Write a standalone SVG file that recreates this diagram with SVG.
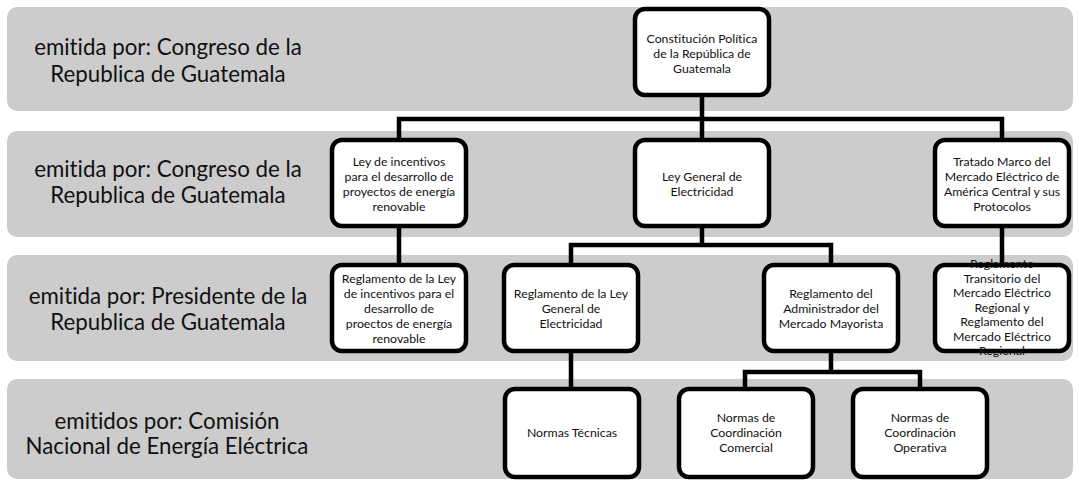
<svg xmlns="http://www.w3.org/2000/svg" width="1079" height="481" viewBox="0 0 1079 481">
<style>
.band{fill:#cccccc;}
.lbl{font-family:Lato,"Open Sans","Liberation Sans",sans-serif;font-size:22.3px;fill:#111;text-anchor:middle;font-variant-ligatures:none;}
.box{fill:#ffffff;stroke:#000;stroke-width:4.5;}
.t{font-family:Lato,"Open Sans","Liberation Sans",sans-serif;font-size:12.3px;fill:#111;text-anchor:middle;font-variant-ligatures:none;}
.c{fill:none;stroke:#000;stroke-width:4.5;stroke-linejoin:miter;}
</style>
<rect width="1079" height="481" fill="#ffffff"/>
<g id="bands">
<rect class="band" x="7" y="7" width="1066" height="104" rx="10"/>
<rect class="band" x="7" y="131" width="1066" height="106" rx="10"/>
<rect class="band" x="7" y="255" width="1066" height="106" rx="10"/>
<rect class="band" x="7" y="379" width="1066" height="100" rx="10"/>
<text class="lbl" x="168" y="55">emitida por: Congreso de la</text>
<text class="lbl" x="168" y="82">Republica de Guatemala</text>
<text class="lbl" x="168" y="177">emitida por: Congreso de la</text>
<text class="lbl" x="168" y="203">Republica de Guatemala</text>
<text class="lbl" x="168" y="304">emitida por: Presidente de la</text>
<text class="lbl" x="168" y="330">Republica de Guatemala</text>
<text class="lbl" x="167" y="429">emitidos por: Comisión</text>
<text class="lbl" x="167" y="454">Nacional de Energía Eléctrica</text>
</g>
<g id="connectors">
<path class="c" d="M702 95 V119 M399 140 V119 H1002 V140 M702 119 V140"/>
<path class="c" d="M399 226 V265"/>
<path class="c" d="M1002 226 V265"/>
<path class="c" d="M702 226 V245 M571 265 V245 H831 V265"/>
<path class="c" d="M571 351 V389"/>
<path class="c" d="M831 351 V372 M745 389 V372 H920 V389"/>
</g>
<g id="n-constitucion">
<rect class="box" x="635" y="9" width="134" height="86" rx="10"/>
<text class="t" x="702" y="43">Constitución Política</text>
<text class="t" x="702" y="58">de la República de</text>
<text class="t" x="702" y="73">Guatemala</text>
</g>
<g id="n-ley-incentivos">
<rect class="box" x="332" y="140" width="134" height="86" rx="10"/>
<text class="t" x="399" y="166">Ley de incentivos</text>
<text class="t" x="399" y="181">para el desarrollo de</text>
<text class="t" x="399" y="196">proyectos de energía</text>
<text class="t" x="399" y="211">renovable</text>
</g>
<g id="n-ley-general">
<rect class="box" x="635" y="140" width="134" height="86" rx="10"/>
<text class="t" x="702" y="181">Ley General de</text>
<text class="t" x="702" y="196">Electricidad</text>
</g>
<g id="n-tratado">
<rect class="box" x="935" y="140" width="134" height="86" rx="10"/>
<text class="t" x="1002" y="166">Tratado Marco del</text>
<text class="t" x="1002" y="181">Mercado Eléctrico de</text>
<text class="t" x="1002" y="196">América Central y sus</text>
<text class="t" x="1002" y="211">Protocolos</text>
</g>
<g id="n-reg-incentivos">
<rect class="box" x="332" y="265" width="134" height="86" rx="10"/>
<text class="t" x="399" y="283">Reglamento de la Ley</text>
<text class="t" x="399" y="298">de incentivos para el</text>
<text class="t" x="399" y="313">desarrollo de</text>
<text class="t" x="399" y="328">proectos de energía</text>
<text class="t" x="399" y="343">renovable</text>
</g>
<g id="n-reg-ley-general">
<rect class="box" x="504" y="265" width="134" height="86" rx="10"/>
<text class="t" x="571" y="298">Reglamento de la Ley</text>
<text class="t" x="571" y="313">General de</text>
<text class="t" x="571" y="328">Electricidad</text>
</g>
<g id="n-reg-administrador">
<rect class="box" x="764" y="265" width="134" height="86" rx="10"/>
<text class="t" x="831" y="298">Reglamento del</text>
<text class="t" x="831" y="313">Administrador del</text>
<text class="t" x="831" y="328">Mercado Mayorista</text>
</g>
<g id="n-reg-transitorio">
<rect class="box" x="935" y="265" width="134" height="86" rx="10"/>
<text class="t" x="1002" y="268">Reglamento</text>
<text class="t" x="1002" y="282.5">Transitorio del</text>
<text class="t" x="1002" y="297">Mercado Eléctrico</text>
<text class="t" x="1002" y="311.5">Regional y</text>
<text class="t" x="1002" y="326">Reglamento del</text>
<text class="t" x="1002" y="340.5">Mercado Eléctrico</text>
<text class="t" x="1002" y="355">Regional</text>
</g>
<g id="n-normas-tecnicas">
<rect class="box" x="505" y="389" width="134" height="88" rx="10"/>
<text class="t" x="572" y="437">Normas Técnicas</text>
</g>
<g id="n-normas-comercial">
<rect class="box" x="679" y="389" width="134" height="88" rx="10"/>
<text class="t" x="746" y="422">Normas de</text>
<text class="t" x="746" y="437">Coordinación</text>
<text class="t" x="746" y="452">Comercial</text>
</g>
<g id="n-normas-operativa">
<rect class="box" x="853" y="389" width="134" height="88" rx="10"/>
<text class="t" x="920" y="422">Normas de</text>
<text class="t" x="920" y="437">Coordinación</text>
<text class="t" x="920" y="452">Operativa</text>
</g>
</svg>
